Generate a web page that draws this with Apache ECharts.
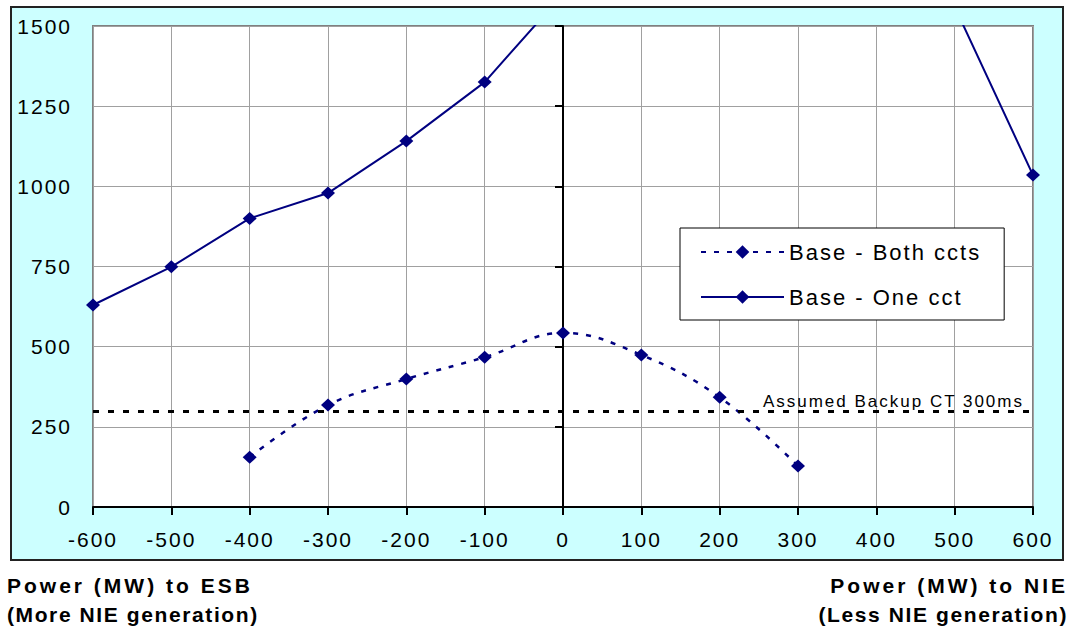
<!DOCTYPE html>
<html>
<head>
<meta charset="utf-8">
<script src="https://cdn.jsdelivr.net/npm/echarts@6/dist/echarts.min.js"></script>
<style>
    html, body { margin: 0; padding: 0; background: #fff; }
    #chart { width: 1070px; height: 628px; }
    /* Excel-style wide text */
    #chart text { letter-spacing: 2px; }
    #chart text[style*="bold"] { letter-spacing: 1.6px; }
    #chart text[style*="bolder"] { letter-spacing: 3px; }
</style>
</head>
<body>
<div id="chart"></div>
<script>
// data
var powerMW = [-600, -500, -400, -300, -200, -100, 0, 100, 200, 300, 400, 500, 600];
var bothCcts = [null, null, 155, 318, 399, 467, 543, 474, 342, 128, null, null, null];
var oneCct = [630, 749, 900, 979, 1141, 1325, 1600, null, null, null, null, 1560, 1035];
var seriesNames = ['Base - Both ccts', 'Base - One cct'];
var backupCT = 300;
var backupLabel = 'Assumed Backup CT 300ms';
var leftTitle = ['Power (MW) to ESB', '(More NIE generation)'];
var rightTitle = ['Power (MW) to NIE', '(Less NIE generation)'];

var font = '"Liberation Sans", Arial, sans-serif';
var navy = '#000080';

function pairs(values) {
    var out = [];
    for (var i = 0; i < powerMW.length; i++) {
        out.push([powerMW[i], values[i] === null ? '-' : values[i]]);
    }
    return out;
}

var chartDom = document.getElementById('chart');
var myChart = echarts.init(chartDom, null, { renderer: 'svg' });

// 'bolder' only so the css can space the first title line a bit wider
var titleStyle = { fontSize: 21, fontWeight: 'bolder', color: '#000', fontFamily: font, lineHeight: 20 };
var subtitleStyle = { fontSize: 21, fontWeight: 'bold', color: '#000', fontFamily: font, lineHeight: 20 };

var option = {
    animation: false,
    textStyle: { fontFamily: font },
    graphic: [{
        type: 'rect',
        z: -10,
        shape: { x: 11, y: 7, width: 1052, height: 553 },
        style: { fill: '#ccffff', stroke: '#222', lineWidth: 2 }
    }],
    title: [{
        text: leftTitle[0],
        subtext: leftTitle[1],
        left: 7,
        top: 575,
        padding: 0,
        itemGap: 8,
        textStyle: titleStyle,
        subtextStyle: subtitleStyle
    }, {
        text: rightTitle[0],
        subtext: rightTitle[1],
        left: 1068,
        textAlign: 'right',
        top: 575,
        padding: 0,
        itemGap: 8,
        textStyle: titleStyle,
        subtextStyle: subtitleStyle
    }],
    legend: {
        data: seriesNames,
        orient: 'vertical',
        left: 680,
        top: 228,
        padding: [13, 55, 12, 20],
        itemWidth: 83,
        itemHeight: 17,
        itemGap: 23,
        backgroundColor: '#fff',
        borderColor: '#000',
        borderWidth: 1,
        textStyle: { fontSize: 22, color: '#000', fontFamily: font }
    },
    grid: {
        left: 93,
        right: 37,
        top: 26,
        bottom: 121,
        show: true,
        backgroundColor: '#fff',
        borderColor: '#808080',
        borderWidth: 2
    },
    xAxis: {
        type: 'value',
        min: -600,
        max: 600,
        interval: 100,
        axisLine: { lineStyle: { color: '#000', width: 2 } },
        axisTick: { length: 8, lineStyle: { color: '#000', width: 2 } },
        axisLabel: { fontSize: 21, color: '#000', margin: 22, fontFamily: font },
        splitLine: { lineStyle: { color: '#a0a0a0', width: 1 } }
    },
    yAxis: [{
        type: 'value',
        min: 0,
        max: 1500,
        interval: 250,
        axisLine: { show: false, onZero: false },
        axisTick: { show: false },
        axisLabel: {
            fontSize: 21,
            color: '#000',
            margin: 21,
            fontFamily: font,
            formatter: function (v) { return String(v); }
        },
        splitLine: { lineStyle: { color: '#a0a0a0', width: 1 } }
    }, {
        // the black axis drawn at x = 0
        type: 'value',
        min: 0,
        max: 1500,
        interval: 250,
        position: 'left',
        axisLine: { show: true, onZero: true, lineStyle: { color: '#000', width: 2 } },
        axisTick: { show: true, length: 8, lineStyle: { color: '#000', width: 2 } },
        axisLabel: { show: false },
        splitLine: { show: false }
    }],
    series: [{
        name: seriesNames[0],
        type: 'line',
        data: pairs(bothCcts),
        smooth: 0.4,
        symbol: 'diamond',
        symbolSize: [14, 13],
        itemStyle: { color: navy },
        lineStyle: { color: navy, width: 2.5, type: [5, 8] },
        markLine: {
            silent: true,
            symbol: 'none',
            data: [{ yAxis: backupCT }],
            lineStyle: { color: '#000', width: 3, type: [6, 9] },
            label: {
                position: 'insideEndTop',
                formatter: backupLabel,
                fontSize: 17,
                color: '#000',
                fontFamily: font,
                distance: [9, 1]
            }
        }
    }, {
        name: seriesNames[1],
        type: 'line',
        data: pairs(oneCct),
        symbol: 'diamond',
        symbolSize: [14, 13],
        itemStyle: { color: navy },
        lineStyle: { color: navy, width: 2, type: 'solid' }
    }]
};

myChart.setOption(option);

window.addEventListener('resize', function() {
    myChart.resize();
});
</script>
</body>
</html>
